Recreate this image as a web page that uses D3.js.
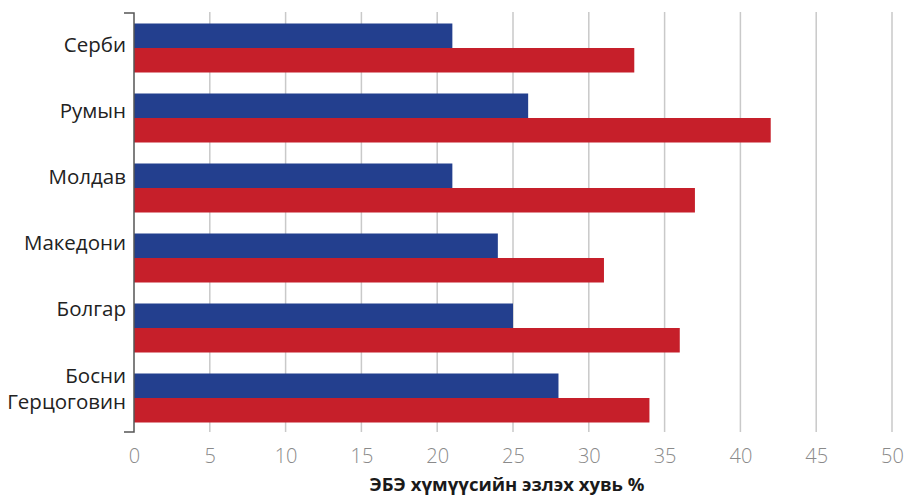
<!DOCTYPE html>
<html>
<head>
<meta charset="utf-8">
<script src="https://cdn.jsdelivr.net/npm/d3@7/dist/d3.min.js"></script>
<style>
  html, body { margin: 0; padding: 0; background: #ffffff; }
  svg { display: block; }
</style>
</head>
<body>
<svg id="chart" width="904" height="498"></svg>
<script>
// Countries (top to bottom) and the two series values, in percent
const countries = ["Серби", "Румын", "Молдав", "Македони", "Болгар", "Босни Герцоговин"];
const seriesBlue = [21, 26, 21, 24, 25, 28];
const seriesRed  = [33, 42, 37, 31, 36, 34];
const xTicks = [0, 5, 10, 15, 20, 25, 30, 35, 40, 45, 50];
const xTitle = "ЭБЭ хүмүүсийн эзлэх хувь %";

const svg = d3.select("#chart");
const plotLeft = 134, plotRight = 892, plotTop = 13, plotBottom = 433;

const x = d3.scaleLinear().domain([0, 50]).range([plotLeft, plotRight]);
const y = d3.scaleBand().domain(countries).range([plotTop, plotBottom])
  .paddingInner(0.3).paddingOuter(0.15);
const sub = d3.scaleBand().domain(["blue", "red"]).range([0, y.bandwidth()]);
// Label baselines run on their own, slightly tighter spacing
const labelY = d3.scalePoint().domain(countries).range([52, 382.5]);

const colors = { blue: "#233f8e", red: "#c61f2a" };

// Vertical gridlines
svg.append("g")
  .selectAll("line")
  .data(xTicks.filter(d => d > 0))
  .join("line")
  .attr("x1", d => x(d)).attr("x2", d => x(d))
  .attr("y1", plotTop - 1).attr("y2", plotBottom - 1)
  .attr("stroke", "#c9c9c9").attr("stroke-width", 1.5);

// Bars
const rows = countries.map((c, i) => ({ c, blue: seriesBlue[i], red: seriesRed[i] }));
const groups = svg.append("g").selectAll("g")
  .data(rows).join("g")
  .attr("transform", d => `translate(0,${y(d.c)})`);

["blue", "red"].forEach(key => {
  groups.append("rect")
    .attr("x", x(0))
    .attr("y", sub(key))
    .attr("width", d => x(d[key]) - x(0))
    .attr("height", sub.bandwidth())
    .attr("fill", colors[key]);
});

// X axis tick labels
const xAxis = d3.axisBottom(x).tickValues(xTicks).tickSize(0).tickPadding(0)
  .tickFormat(d3.format("d"));
const gx = svg.append("g").attr("transform", `translate(0,${plotBottom + 15})`).call(xAxis);
gx.select(".domain").remove();
gx.selectAll("text")
  .attr("dy", "0.74em")
  .attr("fill", "#8a8a8a")
  .style("font-family", "'Open Sans', sans-serif")
  .style("font-weight", 300)
  .style("font-size", "20px");

// Y axis line with end caps
svg.append("path")
  .attr("d", `M${plotLeft - 10},${plotTop}H${plotLeft}V${plotBottom - 1}H${plotLeft - 10}`)
  .attr("fill", "none").attr("stroke", "#555").attr("stroke-width", 1.5);

// Category labels
const labelG = svg.append("g")
  .style("font-family", "'Open Sans', sans-serif")
  .style("font-size", "20.5px")
  .attr("fill", "#222");
rows.forEach(d => {
  const by = labelY(d.c);
  const parts = d.c.split(" ");
  const t = labelG.append("text").attr("text-anchor", "end");
  parts.forEach((p, k) => {
    t.append("tspan").attr("x", plotLeft - 8).attr("y", by + k * 26).text(p);
  });
});

// Axis title
svg.append("text")
  .attr("x", 507).attr("y", 491)
  .attr("text-anchor", "middle")
  .attr("fill", "#1a1a1a")
  .style("font-family", "'Open Sans', sans-serif")
  .style("font-weight", 700)
  .style("font-size", "18.5px")
  .text(xTitle);
</script>
</body>
</html>
